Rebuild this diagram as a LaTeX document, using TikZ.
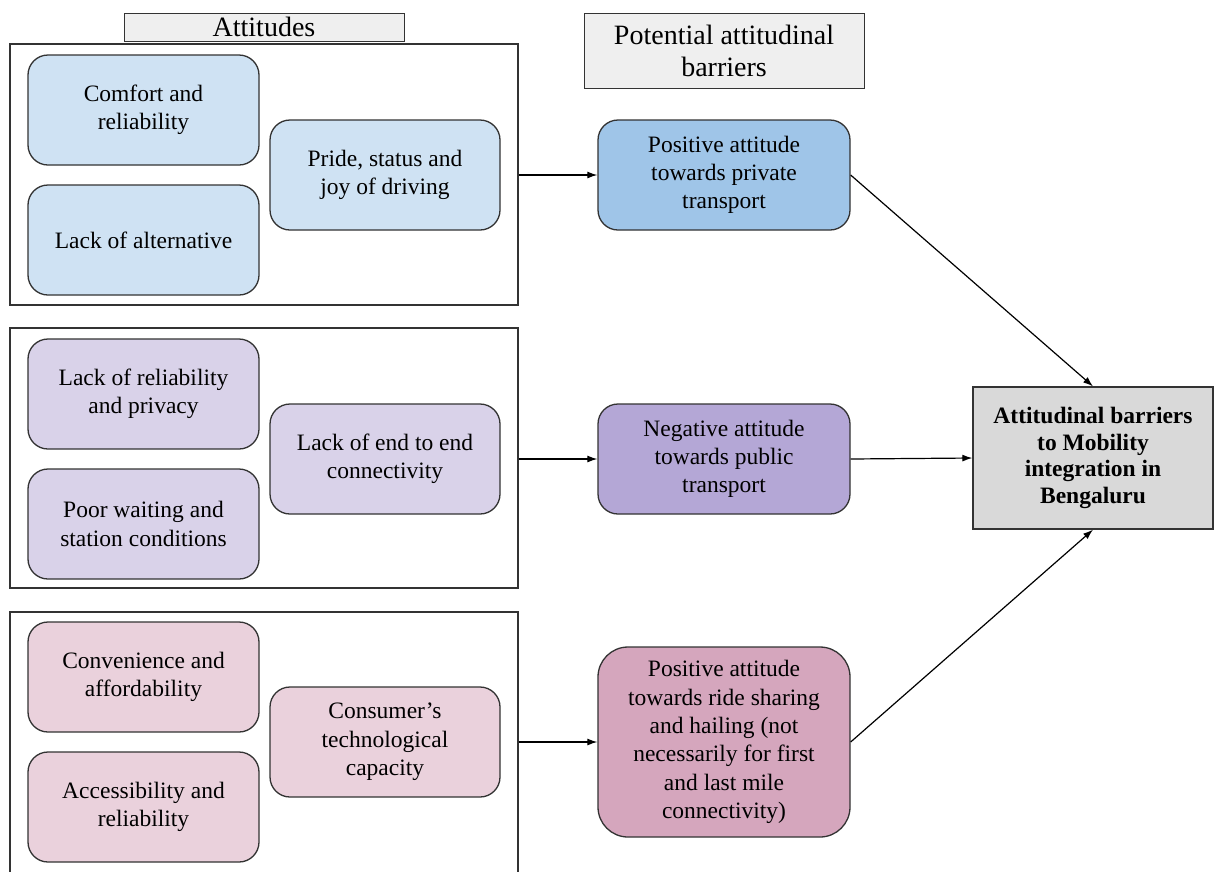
\documentclass[tikz,border=0pt]{standalone}
\usepackage{fontspec}
\setmainfont{Liberation Serif}
\usetikzlibrary{arrows.meta}
\definecolor{lblue}{HTML}{CFE2F3}
\definecolor{mblue}{HTML}{9FC5E8}
\definecolor{lpurp}{HTML}{D9D2E9}
\definecolor{mpurp}{HTML}{B4A7D6}
\definecolor{lpink}{HTML}{EAD1DC}
\definecolor{mpink}{HTML}{D5A6BD}
\definecolor{hdr}{HTML}{EFEFEF}
\definecolor{gbox}{HTML}{D9D9D9}
\definecolor{edge}{HTML}{333333}
\tikzset{
  bodytxt/.style={font=\fontsize{23.5}{28.3}\selectfont, align=center},
  smallbox/.style={draw=edge, line width=1.3pt, rounded corners=20pt, minimum width=231pt, minimum height=110pt, inner sep=0pt, bodytxt},
  midbox/.style={draw=edge, line width=1.3pt, rounded corners=20pt, minimum width=252pt, minimum height=110pt, inner sep=0pt, bodytxt},
  groupbox/.style={draw=edge, line width=1.3pt, minimum width=508pt, inner sep=0pt},
  header/.style={draw=edge, line width=1pt, fill=hdr, minimum width=280pt, inner sep=0pt, align=center, font=\fontsize{28}{32}\selectfont},
  conn/.style={draw=black, line width=1.2pt, -{Latex[length=10pt,width=7pt]}}
}
\begin{document}
\begin{tikzpicture}[x=1pt,y=-1pt]
\useasboundingbox (0,0) rectangle (1217,871);
\clip (0,0) rectangle (1217,871);
\fill[white] (0,0) rectangle (1217,871);
% headers
\node[header, minimum height=28pt] (hAtt) at (264,27) {Attitudes};
\node[header, minimum height=75pt] (hPot) at (724,50.5) {Potential attitudinal\\barriers};
% group 1
\node[groupbox, minimum height=261pt] (g1) at (264,174.5) {};
\node[smallbox, fill=lblue] (a1) at (143.5,110) {Comfort and\\reliability};
\node[smallbox, fill=lblue] (a2) at (143.5,240) {Lack of alternative};
\node[smallbox, fill=lblue, minimum width=230pt] (a3) at (385,175) {Pride, status and\\joy of driving};
\node[midbox, fill=mblue] (p1) at (724,175) {Positive attitude\\towards private\\transport};
% group 2
\node[groupbox, minimum height=260pt] (g2) at (264,458) {};
\node[smallbox, fill=lpurp] (b1) at (143.5,394) {Lack of reliability\\and privacy};
\node[smallbox, fill=lpurp] (b2) at (143.5,524) {Poor waiting and\\station conditions};
\node[smallbox, fill=lpurp, minimum width=230pt] (b3) at (385,459) {Lack of end to end\\connectivity};
\node[midbox, fill=mpurp] (p2) at (724,459) {Negative attitude\\towards public\\transport};
% group 3
\node[groupbox, minimum height=268pt] (g3) at (264,746) {};
\node[smallbox, fill=lpink] (c1) at (143.5,677) {Convenience and\\affordability};
\node[smallbox, fill=lpink] (c2) at (143.5,807) {Accessibility and\\reliability};
\node[smallbox, fill=lpink, minimum width=230pt] (c3) at (385,742) {Consumer’s\\technological\\capacity};
\node[midbox, fill=mpink, minimum height=190pt, rounded corners=30pt] (p3) at (724,742) {Positive attitude\\towards ride sharing\\and hailing (not\\necessarily for first\\and last mile\\connectivity)};
% target
\node[draw=edge, line width=1.3pt, fill=gbox, minimum width=240pt, minimum height=142pt, inner sep=0pt, align=center, font=\fontsize{23.5}{26.7}\selectfont\bfseries] (t) at (1093,458) {Attitudinal barriers\\to Mobility\\integration in\\Bengaluru};
% connectors
\draw[conn] (g1.east |- p1.west) -- (p1.west);
\draw[conn] (g2.east |- p2.west) -- (p2.west);
\draw[conn] (g3.east |- p3.west) -- (p3.west);
\draw[conn] (p1.east) -- (t.north);
\draw[conn] (p2.east) -- (t.west);
\draw[conn] (p3.east) -- (t.south);
\end{tikzpicture}
\end{document}
